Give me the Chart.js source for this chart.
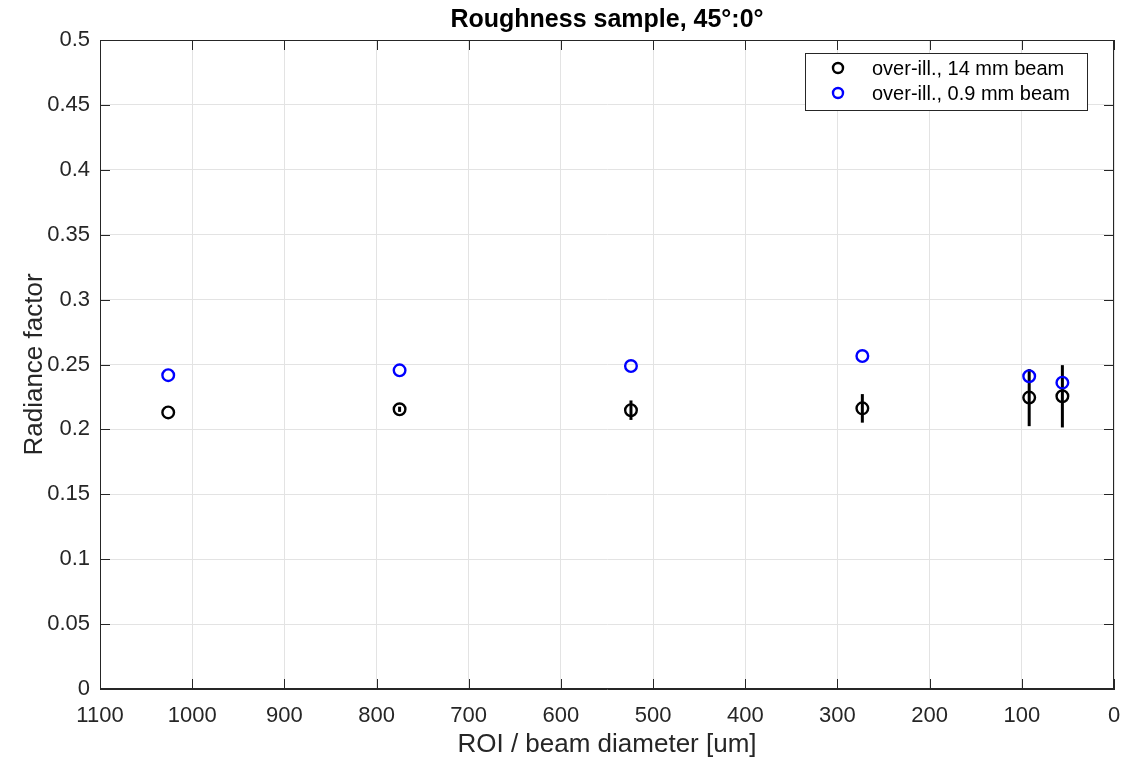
<!DOCTYPE html>
<html>
<head>
<meta charset="utf-8">
<script src="https://cdn.jsdelivr.net/npm/chart.js@4/dist/chart.umd.min.js"></script>
<style>
  html, body { margin: 0; padding: 0; background: #fff; }
  #wrap { width: 1124px; height: 761px; }
</style>
</head>
<body>
<div id="wrap"><canvas id="roughChart"></canvas></div>
<script>
// ROI / beam diameter in um
var diameters = [1026, 775, 524, 273, 92, 56];
// radiance factor, 14 mm beam, with half-width of the error bar
var wideBeam = [0.2131, 0.2155, 0.2148, 0.2162, 0.2245, 0.2255];
var wideBeamErr = [0, 0.002, 0.0075, 0.011, 0.022, 0.024];
// radiance factor, 0.9 mm beam
var narrowBeam = [0.2418, 0.2455, 0.2488, 0.2565, 0.2410, 0.2360];

var seriesNames = ['over-ill., 14 mm beam', 'over-ill., 0.9 mm beam'];
var seriesColors = ['#000000', '#0000ff'];

var axisColor = '#262626';
var fontName = '"Liberation Sans", Arial, Helvetica, sans-serif';

function toPoints(xs, ys) {
  return xs.map(function (x, i) { return { x: x, y: ys[i] }; });
}

// vertical error bars, inward ticks, box, legend and labels
var decorPlugin = {
  id: 'decor',
  beforeDatasetsDraw: function (chart) {
    var ctx = chart.ctx;
    var xs = chart.scales.x, ys = chart.scales.y;
    ctx.save();
    ctx.strokeStyle = seriesColors[0];
    ctx.lineWidth = 3;
    diameters.forEach(function (d, i) {
      if (!wideBeamErr[i]) return;
      var px = xs.getPixelForValue(d);
      ctx.beginPath();
      ctx.moveTo(px, ys.getPixelForValue(wideBeam[i] - wideBeamErr[i]));
      ctx.lineTo(px, ys.getPixelForValue(wideBeam[i] + wideBeamErr[i]));
      ctx.stroke();
    });
    ctx.restore();
  },
  afterDraw: function (chart) {
    var ctx = chart.ctx;
    var a = chart.chartArea;
    var xs = chart.scales.x, ys = chart.scales.y;
    ctx.save();

    // box around the axes
    ctx.strokeStyle = axisColor;
    ctx.lineWidth = 1;
    ctx.strokeRect(a.left + 0.5, a.top + 0.5, a.right - a.left - 1, a.bottom - a.top - 1);

    // inward ticks on all four sides
    var tl = 10;
    ctx.beginPath();
    xs.ticks.forEach(function (t) {
      var px = Math.round(xs.getPixelForValue(t.value)) + 0.5;
      ctx.moveTo(px, a.bottom); ctx.lineTo(px, a.bottom - tl);
      ctx.moveTo(px, a.top); ctx.lineTo(px, a.top + tl);
    });
    ys.ticks.forEach(function (t) {
      var py = Math.round(ys.getPixelForValue(t.value)) + 0.5;
      ctx.moveTo(a.left, py); ctx.lineTo(a.left + tl, py);
      ctx.moveTo(a.right, py); ctx.lineTo(a.right - tl, py);
    });
    ctx.stroke();

    // title
    ctx.fillStyle = '#000';
    ctx.font = 'bold 25px ' + fontName;
    ctx.textAlign = 'center';
    ctx.textBaseline = 'middle';
    ctx.fillText('Roughness sample, 45°:0°', (a.left + a.right) / 2, 20);

    // axis titles
    ctx.fillStyle = axisColor;
    ctx.font = '26px ' + fontName;
    ctx.fillText('ROI / beam diameter [um]', (a.left + a.right) / 2, 745);
    ctx.save();
    ctx.translate(35, (a.top + a.bottom) / 2);
    ctx.rotate(-Math.PI / 2);
    ctx.fillText('Radiance factor', 0, 0);
    ctx.restore();

    // legend
    var lx = 805, ly = 53, lw = 282, lh = 57;
    ctx.fillStyle = '#fff';
    ctx.fillRect(lx, ly, lw, lh);
    ctx.strokeStyle = '#262626';
    ctx.lineWidth = 1;
    ctx.strokeRect(lx + 0.5, ly + 0.5, lw, lh);
    ctx.font = '20px ' + fontName;
    ctx.textAlign = 'left';
    seriesNames.forEach(function (name, i) {
      var cy = ly + 15 + i * 25;
      ctx.beginPath();
      ctx.strokeStyle = seriesColors[i];
      ctx.lineWidth = 2.4;
      ctx.arc(838, cy, 5, 0, Math.PI * 2);
      ctx.stroke();
      ctx.fillStyle = '#000';
      ctx.fillText(name, 872, cy + 1);
    });
    ctx.restore();
  }
};

new Chart(document.getElementById('roughChart'), {
  type: 'scatter',
  data: {
    datasets: [{
      label: seriesNames[0],
      data: toPoints(diameters, wideBeam),
      borderColor: seriesColors[0],
      backgroundColor: 'rgba(0,0,0,0)',
      borderWidth: 2.4,
      pointRadius: 5.8,
      pointHoverRadius: 5.8
    }, {
      label: seriesNames[1],
      data: toPoints(diameters, narrowBeam),
      borderColor: seriesColors[1],
      backgroundColor: 'rgba(0,0,0,0)',
      borderWidth: 2.4,
      pointRadius: 5.8,
      pointHoverRadius: 5.8
    }]
  },
  options: {
    responsive: true,
    maintainAspectRatio: false,
    animation: false,
    layout: { padding: { top: 40, right: 10, left: 0, bottom: 0 } },
    plugins: {
      legend: { display: false },
      tooltip: { enabled: false }
    },
    scales: {
      x: {
        type: 'linear',
        min: 0,
        max: 1100,
        reverse: true,
        afterFit: function (s) {
          s.height = 72;
          s.paddingLeft = 0;
          s.paddingRight = 0;
        },
        grid: { color: '#e3e3e3', drawTicks: false },
        border: { color: axisColor },
        ticks: {
          stepSize: 100,
          padding: 14,
          color: axisColor,
          font: { family: fontName, size: 22 },
          callback: function (v) { return String(v); }
        }
      },
      y: {
        min: 0,
        max: 0.5,
        afterFit: function (s) { s.width = 100; },
        grid: { color: '#e3e3e3', drawTicks: false },
        border: { color: axisColor },
        ticks: {
          stepSize: 0.05,
          padding: 10,
          color: axisColor,
          font: { family: fontName, size: 22 },
          callback: function (v) { return String(Number(v.toFixed(2))); }
        }
      }
    }
  },
  plugins: [decorPlugin]
});
</script>
</body>
</html>
